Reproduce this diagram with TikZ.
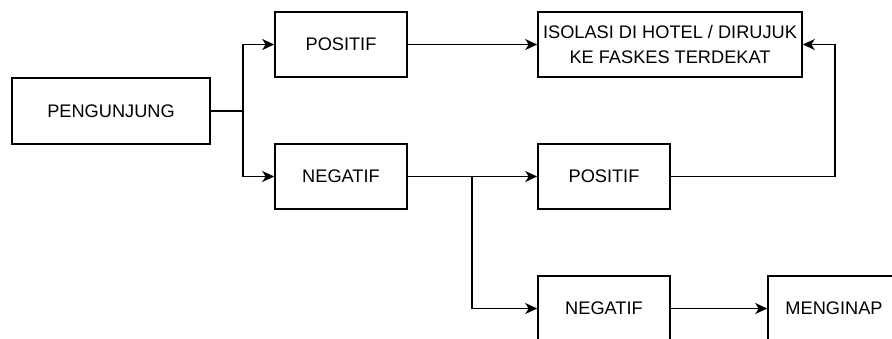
\documentclass[tikz,border=0pt]{standalone}
\usepackage{fontspec}
\setmainfont{Liberation Sans}
\usetikzlibrary{arrows.meta}
\begin{document}
\begin{tikzpicture}[x=1pt,y=-1pt,
  box/.style={draw, line width=1.6pt, inner sep=0pt, align=center,
    font=\fontsize{18.2}{24.5}\selectfont},
  arr/.style={line width=1.5pt, -{Stealth[length=12pt,width=11pt,inset=3.5pt]}},
  ln/.style={line width=1.5pt}]
\clip (0,0) rectangle (892,338);
\fill[white] (0,0) rectangle (892,338);
\node[box, minimum width=198pt, minimum height=66pt] (peng) at (111,111) {PENGUNJUNG};
\node[box, minimum width=132pt, minimum height=65pt] (pos1) at (341,44.5) {POSITIF};
\node[box, minimum width=132pt, minimum height=65pt] (neg1) at (341,176.5) {NEGATIF};
\node[box, minimum width=264pt, minimum height=65pt] (iso) at (670,44.5) {ISOLASI DI HOTEL / DIRUJUK\\KE FASKES TERDEKAT};
\node[box, minimum width=132pt, minimum height=65pt] (pos2) at (604,176.5) {POSITIF};
\node[box, minimum width=132pt, minimum height=65pt] (neg2) at (604,308.5) {NEGATIF};
\node[box, minimum width=132pt, minimum height=65pt] (meng) at (834,308.5) {MENGINAP};
\coordinate (j1) at (243,111);
\coordinate (j2) at (472,176.5);
\coordinate (j3) at (835,176.5);
\draw[ln] (peng.east) -- (j1);
\draw[arr] (j1) |- (pos1.west);
\draw[arr] (j1) |- (neg1.west);
\draw[arr] (pos1.east) -- (iso.west);
\draw[arr] (neg1.east) -- (pos2.west);
\draw[arr] (j2) |- (neg2.west);
\draw[arr] (pos2.east) -- (j3) |- (iso.east);
\draw[arr] (neg2.east) -- (meng.west);
\end{tikzpicture}
\end{document}
